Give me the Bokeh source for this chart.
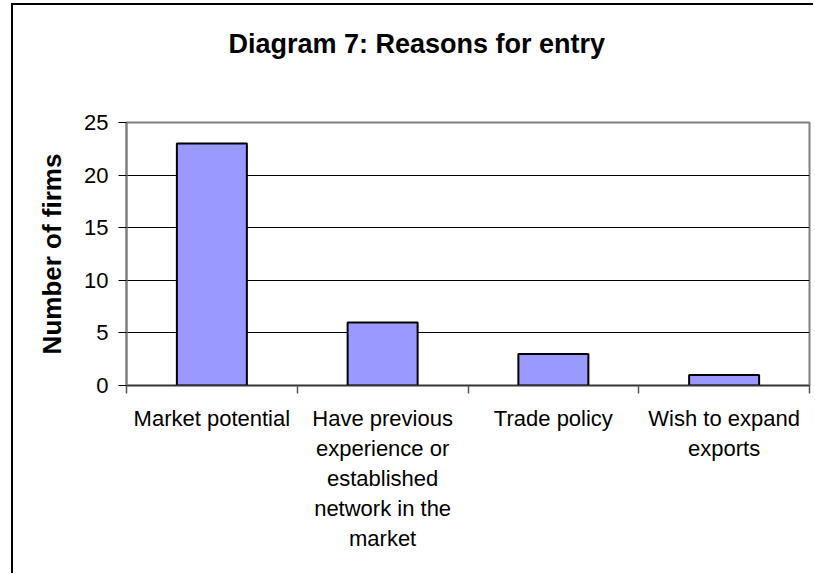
from bokeh.plotting import figure
from bokeh.models import (Range1d, LinearAxis, FixedTicker, ColumnDataSource, Grid)
from bokeh.embed import file_html
from bokeh.resources import INLINE

# ---- data ----
categories = ["Market potential",
              "Have previous experience or established network in the market",
              "Trade policy",
              "Wish to expand exports"]
tick_labels = ["Market potential",
               "Have previous\nexperience or\nestablished\nnetwork in the\nmarket",
               "Trade policy",
               "Wish to expand\nexports"]
firms = [23, 6, 3, 1]
y_ticks = [0, 5, 10, 15, 20, 25]
title_text = "Diagram 7: Reasons for entry"
y_label = "Number of firms"

FONT = "Liberation Sans"

n = len(categories)
centers = [i + 0.5 for i in range(n)]
bounds = list(range(n + 1))

p = figure(x_range=Range1d(0, n), y_range=Range1d(0, 25),
           frame_width=683, frame_height=263,
           min_border_left=113, min_border_right=4, min_border_top=117, min_border_bottom=188,
           output_backend="svg", toolbar_location=None,
           x_axis_location=None, y_axis_location=None, title=title_text)
p.center = []
p.background_fill_color = "white"
p.border_fill_color = "white"
p.outline_line_color = "#808080"
p.outline_line_width = 2
p.styles = {"margin-left": "11px", "margin-top": "3px",
            "border-left": "2px solid black", "border-top": "2px solid black"}

p.title.align = "left"
p.title.offset = 102
p.title.standoff = 10
p.title.text_font = FONT
p.title.text_font_style = "bold"
p.title.text_font_size = "27px"
p.title.text_color = "black"

# invisible spacer between the title and the plot area
spacer = LinearAxis(ticker=FixedTicker(ticks=[0]), major_tick_out=59, major_tick_in=0,
                    minor_tick_out=0, minor_tick_in=0, major_label_standoff=0,
                    major_label_overrides={0: ""},
                    axis_line_color=None, major_tick_line_color=None,
                    minor_tick_line_color=None)
p.add_layout(spacer, "above")

# y axis
y_axis = LinearAxis(ticker=FixedTicker(ticks=y_ticks),
                    major_tick_out=8, major_tick_in=0, minor_tick_line_color=None,
                    axis_line_color="#808080", axis_line_width=2,
                    major_tick_line_color="#000000", major_tick_line_width=1,
                    major_label_text_font=FONT, major_label_text_font_size="22px",
                    major_label_text_color="black", major_label_standoff=10,
                    axis_label=y_label, axis_label_text_font=FONT,
                    axis_label_text_font_style="bold", axis_label_text_font_size="26px",
                    axis_label_text_color="black", axis_label_standoff=14)
p.add_layout(y_axis, "left")
p.add_layout(Grid(dimension=1, ticker=y_axis.ticker, grid_line_color="black",
                  grid_line_width=1))

# separator ticks at category boundaries
sep_axis = LinearAxis(ticker=FixedTicker(ticks=bounds),
                      major_tick_out=8, major_tick_in=0, minor_tick_line_color=None,
                      major_label_overrides={b: "" for b in bounds},
                      major_label_standoff=0,
                      axis_line_color="#333333", axis_line_width=1.5,
                      major_tick_line_color="#555555", major_tick_line_width=1.5)
p.add_layout(sep_axis, "below")

# category labels
cat_axis = LinearAxis(ticker=FixedTicker(ticks=centers),
                      major_tick_line_color=None, minor_tick_line_color=None,
                      major_tick_out=0, major_tick_in=0, axis_line_color=None,
                      major_label_text_font=FONT, major_label_text_font_size="22px",
                      major_label_text_color="black",
                      major_label_text_line_height=1.2,
                      major_label_overrides={c: t for c, t in zip(centers, tick_labels)},
                      major_label_standoff=12)
p.add_layout(cat_axis, "below")

src = ColumnDataSource(data=dict(x=centers, cat=categories, firms=firms))
p.vbar(x="x", top="firms", width=0.41, source=src,
       fill_color="#9999FF", line_color="black", line_width=2)

open("out.html", "w").write(file_html(p, INLINE))
